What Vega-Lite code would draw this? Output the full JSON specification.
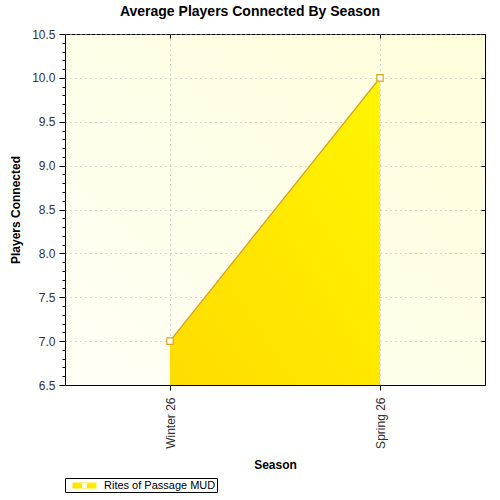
{
  "$schema": "https://vega.github.io/schema/vega-lite/v6.json",
  "autosize": "none",
  "width": 420,
  "height": 351,
  "padding": {"left": 65, "top": 34, "right": 15, "bottom": 115},
  "background": "white",
  "title": {
    "text": "Average Players Connected By Season",
    "font": "Liberation Sans",
    "fontSize": 14,
    "fontWeight": "bold",
    "color": "black",
    "anchor": "middle",
    "dx": -25,
    "offset": 9
  },
  "data": {
    "values": [
      {"season": "Winter 26", "players": 7.0, "series": "Rites of Passage MUD"},
      {"season": "Spring 26", "players": 10.0, "series": "Rites of Passage MUD"}
    ]
  },
  "layer": [
    {
      "mark": {"type": "area", "color": {"gradient": "linear", "x1": 0, "y1": 1, "x2": 1, "y2": 0, "stops": [{"offset": 0, "color": "#FFDC00"}, {"offset": 1, "color": "#FFF500"}]}},
      "encoding": {
        "x": {
          "field": "season", "type": "ordinal", "sort": null, "title": "Season",
          "scale": {"type": "point", "padding": 0.5},
          "axis": {"orient": "bottom", "labelAngle": -90, "grid": true, "tickSize": 5, "labelPadding": 7, "titlePadding": 11}
        },
        "y": {
          "field": "players", "type": "quantitative", "title": "Players Connected",
          "scale": {"domain": [6.5, 10.5], "zero": false, "nice": false},
          "axis": {"orient": "left", "values": [6.5, 7, 7.5, 8, 8.5, 9, 9.5, 10, 10.5], "format": ".1f", "grid": true, "tickSize": 6, "labelPadding": 4, "titlePadding": 9}
        },
        "y2": {"datum": 6.5},
        "opacity": {
          "field": "series", "type": "nominal",
          "scale": {"range": [1]},
          "legend": {
            "orient": "none", "legendX": 0, "legendY": 444, "title": null,
            "strokeColor": "black", "fillColor": "white", "padding": 1,
            "symbolType": "M-2,-0.5H2V0.5H-2Z M-0.4,-0.4V0.4H0.4V-0.4Z",
            "symbolSize": 144, "symbolOffset": 12, "symbolFillColor": "#F5D000", "symbolStrokeColor": "#C8961A", "symbolStrokeWidth": 1,
            "labelOffset": 13, "labelFont": "Liberation Sans", "labelFontSize": 11, "labelColor": "black"
          }
        }
      }
    },
    {
      "mark": {"type": "line", "color": "#D9A520", "strokeWidth": 1.5},
      "encoding": {
        "x": {"field": "season", "type": "ordinal", "sort": null, "scale": {"type": "point", "padding": 0.5},
          "axis": {"orient": "top", "labels": false, "title": null, "domain": false, "grid": false, "tickSize": -4}},
        "y": {"field": "players", "type": "quantitative", "scale": {"domain": [6.5, 10.5], "zero": false, "nice": false},
          "axis": {"orient": "right", "values": [6.5, 7, 7.5, 8, 8.5, 9, 9.5, 10, 10.5], "labels": false, "title": null, "domain": false, "grid": false, "tickSize": -4}}
      }
    },
    {
      "mark": {"type": "point", "shape": "square", "size": 40, "filled": true, "fill": "white", "stroke": "#D9A520", "strokeWidth": 1.2, "opacity": 1},
      "encoding": {
        "x": {"field": "season", "type": "ordinal", "sort": null, "scale": {"type": "point", "padding": 0.5}, "axis": null},
        "y": {"field": "players", "type": "quantitative", "scale": {"domain": [6.5, 10.5], "zero": false, "nice": false},
          "axis": {"orient": "left", "values": [6.6, 6.7, 6.8, 6.9, 7.1, 7.2, 7.3, 7.4, 7.6, 7.7, 7.8, 7.9, 8.1, 8.2, 8.3, 8.4, 8.6, 8.7, 8.8, 8.9, 9.1, 9.2, 9.3, 9.4, 9.6, 9.7, 9.8, 9.9, 10.1, 10.2, 10.3, 10.4], "labels": false, "title": null, "domain": false, "grid": false, "tickSize": 3}}
      }
    }
  ],
  "resolve": {"axis": {"x": "independent", "y": "independent"}},
  "config": {
    "view": {
      "stroke": "black",
      "strokeWidth": 1,
      "fill": {"gradient": "linear", "x1": 0, "y1": 1, "x2": 1, "y2": 0, "stops": [{"offset": 0, "color": "#FFFFF6"}, {"offset": 1, "color": "#FFFEDA"}]}
    },
    "axis": {
      "labelFont": "Liberation Sans",
      "labelFontSize": 12,
      "labelColor": "#333333",
      "titleFont": "Liberation Sans",
      "titleFontSize": 12,
      "titleFontWeight": "bold",
      "titleColor": "black",
      "domainColor": "black",
      "tickColor": "black",
      "gridColor": "#B0B0B0",
      "gridDash": [1, 4],
      "labelFlush": false,
      "labelOverlap": false
    }
  }
}
